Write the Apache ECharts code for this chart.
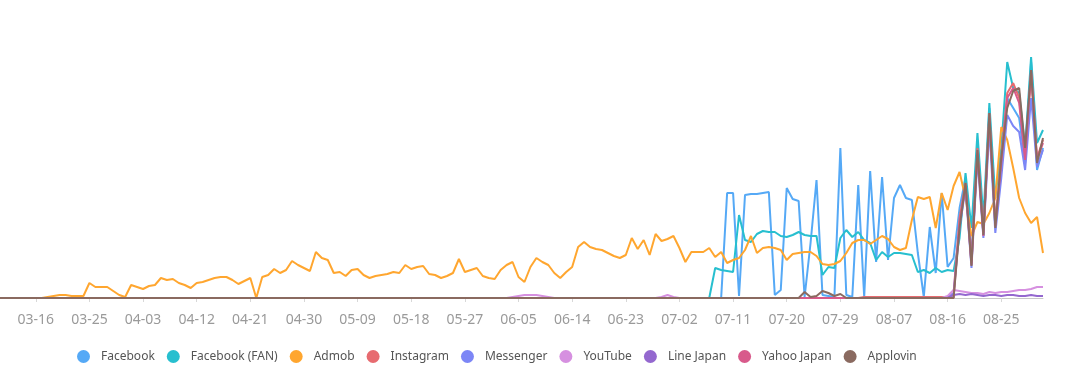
<!DOCTYPE html>
<html>
<head>
<meta charset="utf-8">
<script src="https://cdn.jsdelivr.net/npm/echarts@6/dist/echarts.min.js"></script>
<style>
html,body{margin:0;padding:0;background:#fff;}
#chart{width:1080px;height:375px;}
</style>
</head>
<body>
<div id="chart"></div>
<script>
// ---- categories: daily dates from 03-10 to 09-01 ----
const startMonth = 3, startDay = 10, dayCount = 176;
const categories = [];
(function () {
  const d = new Date(Date.UTC(2019, startMonth - 1, startDay));
  for (let k = 0; k < dayCount; k++) {
    const m = String(d.getUTCMonth() + 1).padStart(2, '0');
    const dd = String(d.getUTCDate()).padStart(2, '0');
    categories.push(m + '-' + dd);
    d.setUTCDate(d.getUTCDate() + 1);
  }
})();

const seriesNames = ['Facebook', 'Facebook (FAN)', 'Admob', 'Instagram', 'Messenger', 'YouTube', 'Line Japan', 'Yahoo Japan', 'Applovin'];

// ---- values (arbitrary units, no y labels) ----
const admob = [
  0,0,0,0,0,0,0,0,1,2,
  3,3,2,2,2,15,11,11,11,7,
  3,1,13,11,9,12,13,20,18,19,
  15,13,10,15,16,18,20,21,21,18,
  14,17,20,0,21,23,29,25,28,37,
  33,30,27,46,40,38,25,26,22,28,
  29,23,20,22,23,24,26,25,33,29,
  31,32,24,23,20,22,25,39,26,28,
  30,22,20,19,28,33,36,21,16,31,
  40,36,33,25,20,26,31,51,56,51,
  49,48,45,42,40,43,60,49,58,43,
  64,57,59,62,50,36,46,46,46,50,
  41,46,35,38,40,48,62,45,50,51,
  50,48,38,44,45,46,46,42,34,33,
  34,37,45,55,58,58,54,58,62,59,
  51,48,50,78,101,99,101,70,105,88,
  112,126,100,62,76,74,85,100,171,158,
  130,100,85,75,81,45
];

// segments: [startIndex, values...]; everything else is 0
const facebookSeg = [119, [
  0,0,0,105,105,2,103,104,104,105,
  106,3,8,110,99,97,1,55,118,3,
  2,1,150,3,1,113,1,127,36,121,
  38,100,113,100,98,45,1,71,25,105,
  31,40,90,120,40,155,62,190,70,130,
  200,190,180,135,236,128,150
]];
const fanSeg = [119, [
  0,30,28,27,26,83,58,56,64,67,
  66,66,62,61,63,66,63,62,62,23,
  31,30,60,68,61,66,58,55,38,46,
  41,45,45,44,43,26,28,25,30,26,
  28,27,60,125,70,165,80,195,100,150,
  236,210,205,150,241,155,168
]];
const instagramSeg = [145, [
  1,1,1,1,1,1,1,1,1,1,
  1,1,1,1,1,5,80,115,35,150,
  65,185,75,140,205,215,200,140,225,140,
  158
]];
const messengerSeg = [160, [
  5,70,110,30,140,60,170,65,120,183,
  172,166,128,200,131,148
]];
const youtubeMid1 = [86, [1,2,3,3,3,2,1]];
const youtubeMid2 = [111, [1,3,1]];
const youtubeSeg = [159, [2,8,7,6,5,5,4,6,5,6,6,7,8,8,9,11,11]];
const lineJapanSeg = [160, [3,4,3,4,3,2,3,3,2,3,3,2,2,3,2,2]];
const yahooSeg = [160, [
  0,75,112,33,145,62,180,72,135,200,
  210,195,138,228,138,155
]];
const applovinMid = [135, [6,1,2,7,5,2,4]];
const applovinSeg = [160, [
  0,70,115,32,148,63,185,70,140,190,
  207,210,150,228,135,160
]];

const colors = ['#55a9f6', '#27bfcf', '#ffa62f', '#e76b70', '#7c86f6', '#d690e0', '#9468cf', '#d85a8b', '#8a6a60'];

function build(...segs) {
  const out = new Array(dayCount).fill(0);
  segs.forEach(([s, vals]) => vals.forEach((v, k) => { out[s + k] = v; }));
  return out;
}

const seriesData = [
  build(facebookSeg),
  build(fanSeg),
  admob,
  build(instagramSeg),
  build(messengerSeg),
  build(youtubeMid1, youtubeMid2, youtubeSeg),
  build(lineJapanSeg),
  build(yahooSeg),
  build(applovinMid, applovinSeg)
];

const labelEvery = 9, labelOffset = 6;
const showIdx = (idx) => idx % labelEvery === labelOffset;

const chart = echarts.init(document.getElementById('chart'), null, { renderer: 'canvas' });
chart.setOption({
  animation: false,
  color: colors,
  textStyle: { fontFamily: 'Noto Sans, sans-serif' },
  grid: { left: -2.8, right: 37, top: 48, bottom: 77, containLabel: false },
  legend: {
    data: seriesNames,
    icon: 'circle',
    top: 345,
    left: 72,
    itemWidth: 25,
    itemHeight: 13,
    itemGap: 12,
    textStyle: { color: '#555', fontSize: 12, fontFamily: 'Noto Sans, sans-serif' }
  },
  xAxis: {
    type: 'category',
    data: categories,
    boundaryGap: false,
    axisLine: { lineStyle: { color: '#c8c8c8', width: 1 } },
    axisTick: { show: true, interval: showIdx, length: 4, lineStyle: { color: '#d8d8d8' } },
    axisLabel: { interval: showIdx, color: '#9a9a9a', fontSize: 14, margin: 15, fontFamily: 'Noto Sans, sans-serif' }
  },
  yAxis: {
    type: 'value',
    min: 0,
    max: 250,
    show: false,
    splitLine: { show: false }
  },
  series: seriesNames.map((name, k) => ({
    name: name,
    type: 'line',
    data: seriesData[k],
    showSymbol: false,
    symbol: 'circle',
    lineStyle: { width: 2 },
    emphasis: { disabled: true }
  }))
});
</script>
</body>
</html>
